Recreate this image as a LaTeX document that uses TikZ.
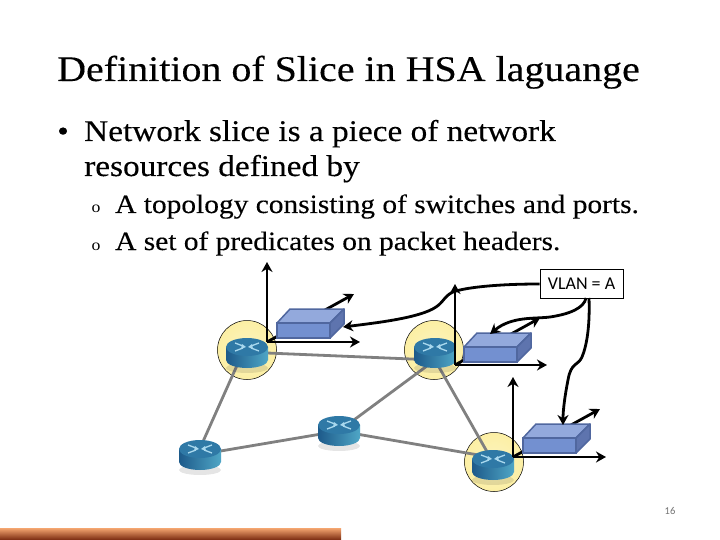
\documentclass[tikz,border=0pt]{standalone}
\usepackage{fontspec}
\setmainfont[FakeStretch=1.11,FakeBold=0.25]{Liberation Serif}
\newfontfamily\markfont[FakeStretch=1.11]{Liberation Serif}
\newfontfamily\labelfont{Carlito}
\usetikzlibrary{arrows.meta,calc,positioning}
\definecolor{haloyellow}{HTML}{FCEFA4}
\definecolor{linkgray}{HTML}{808080}
\definecolor{routertop}{HTML}{2F79A6}
\definecolor{routerdark}{HTML}{1D5A8A}
\definecolor{routerlight}{HTML}{4FA6C6}
\definecolor{routermark}{HTML}{A9D8EE}
\definecolor{boxfront}{HTML}{7390D0}
\definecolor{boxtop}{HTML}{93A9DC}
\definecolor{boxside}{HTML}{5E74AE}
\definecolor{boxedge}{HTML}{50679F}
\definecolor{barlight}{HTML}{F5A670}
\definecolor{bardark}{HTML}{77280F}

\begin{document}
\begin{tikzpicture}[x=1pt,y=-1pt,
  text=black,
  titletext/.style={anchor=base west,inner sep=0pt,font=\fontsize{36}{40}\selectfont},
  bullettext/.style={anchor=base west,inner sep=0pt,font=\fontsize{30}{34}\selectfont},
  subtext/.style={anchor=base west,inner sep=0pt,font=\fontsize{26.5}{30}\selectfont},
  marktext/.style={anchor=base west,inner sep=0pt,font=\markfont\fontsize{16}{18}\selectfont},
  link/.style={draw=linkgray,line width=2.8pt},
  axisflow/.style={-{Stealth[length=10pt,width=11pt]},draw=black,line width=2.8pt},
  tagflow/.style={-{Stealth[length=10pt,width=11pt]},draw=black,line width=2.8pt},
  halo/.style={circle,draw=black,line width=.5pt,minimum size=59pt,inner sep=0pt,
               inner color=haloyellow!70,outer color=haloyellow},
  routernode/.style={circle,minimum size=2pt,inner sep=0pt},
  tagbox/.style={draw=black,line width=.8pt,fill=white,minimum width=83pt,minimum height=29pt,
                 inner sep=0pt,font=\labelfont\fontsize{18}{20}\selectfont},
  router/.pic={
    \fill[black,opacity=.1] (0,17) ellipse (21 and 5);
    \path[left color=routerdark,right color=routerlight]
      (-21,-4) -- (-21,9) arc[start angle=180,end angle=360,x radius=21,y radius=-8]
      -- (21,-4) -- cycle;
    \fill[routertop] (0,-4) ellipse (21 and 9);
    \draw[routermark,line width=1.3pt]
      (-12,-8) -- (-4,-5) (-12,0) -- (-4,-3) (12,-8) -- (4,-5) (12,0) -- (4,-3);
    \fill[routermark] (-5,-7) -- (-1,-4) -- (-6,-2) -- cycle (5,-7) -- (1,-4) -- (6,-2) -- cycle;
  },
  slicebox/.pic={
    \draw[boxedge,line width=1.5pt,fill=boxtop,line join=round] (0,0) -- (13,-14) -- (67,-14) -- (53,0) -- cycle;
    \draw[boxedge,line width=1.5pt,fill=boxside,line join=round] (53,0) -- (67,-14) -- (67,1) -- (53,15) -- cycle;
    \draw[boxedge,line width=1.5pt,fill=boxfront] (0,0) rectangle (53,15);
    \coordinate (rightface) at (66,4);
    \coordinate (topface) at (26,-13);
    \coordinate (topfaceb) at (40,-13);
  }
]
\useasboundingbox (0,0) rectangle (720,540);
\fill[white] (0,0) rectangle (720,540);

% slide text
\node[titletext] (title) at (57,81) {Definition of Slice in HSA laguange};
\node[bullettext] (dot) at (57,141) {•};
\node[bullettext] (line1) at (84,141) {Network slice is a piece of network};
\node[bullettext] (line2) at (84,176) {resources defined by};
\node[marktext] (mark1) at (91.5,213) {o};
\node[subtext] (item1) at (115,213) {A topology consisting of switches and ports.};
\node[marktext] (mark2) at (91.5,250) {o};
\node[subtext] (item2) at (115,250) {A set of predicates on packet headers.};

% footer
\path[top color=barlight,bottom color=bardark] (0,528) rectangle (341,540);
\node[font=\labelfont\fontsize{10.5}{12}\selectfont,text=black!55] (pagenum) at (670,511) {16};

% network
\foreach \x/\y/\name in {247/350/haloa,434/350/halob,494/462/haloc}{
  \node[halo] (\name) at (\x,\y) {};
}
\foreach \x/\y/\name in {243/352/ra,435/360/rb,197/455/rc,339/431/rd,490/457/re}{
  \node[routernode] (\name) at (\x,\y) {};
}
\foreach \from/\to in {ra/rb,ra/rc,rc/rd,rd/rb,rd/re,rb/re}{
  \draw[link] (\from) -- (\to);
}
\foreach \x/\y in {247/351,435/351,200/453,339/429,493/463}{
  \pic at (\x,\y) {router};
}

% flow space axes
\coordinate (origa) at (267,342);
\coordinate (origb) at (455,365);
\coordinate (origc) at (513,457);
\foreach \name/\upx/\upy/\rtx/\rty/\dgx/\dgy in
  {origa/267/262/360/342/354/294,origb/455/284/547/365/540/318,origc/513/377/606/457/600/409}{
  \coordinate (up) at (\upx,\upy);
  \coordinate (rt) at (\rtx,\rty);
  \coordinate (dg) at (\dgx,\dgy);
  \draw[axisflow] (\name) -- (dg);
  \draw[axisflow] (\name) -- (up);
  \draw[axisflow] (\name) -- (rt);
}

\pic (sa) at (277,323) {slicebox};
\pic (sb) at (464,347) {slicebox};
\pic (sc) at (523,438) {slicebox};

% vlan tag
\node[tagbox] (vlan) at (581.5,284) {VLAN = A};
\coordinate (vlanb) at (586,298);
\coordinate (vlanc) at (589,298);
\draw[tagflow] (vlan.west) .. controls (500,284) and (470,287) .. (456,291)
  .. controls (445,294) and (444,302) .. (436,307)
  .. controls (420,318) and (375,323) .. (sarightface);
\draw[tagflow] (vlanb) .. controls (584,308) and (570,314) .. (550,317)
  .. controls (535,319) and (512,316) .. (sbtopface);
\draw[tagflow] (vlanc) .. controls (590,325) and (587,345) .. (582,357)
  .. controls (578,366) and (571,362) .. (568,380)
  .. controls (565,395) and (563,410) .. (sctopfaceb);
\end{tikzpicture}
\end{document}
